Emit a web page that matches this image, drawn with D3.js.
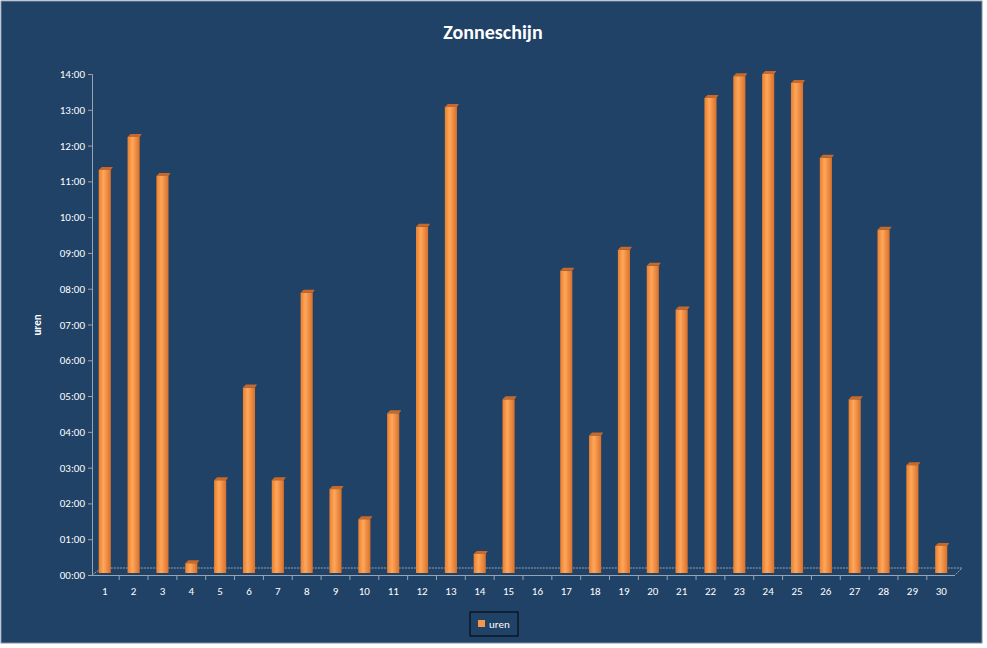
<!DOCTYPE html>
<html><head><meta charset="utf-8">
<script src="https://cdn.jsdelivr.net/npm/d3@7"></script>
<style>body{margin:0;background:#fff;font-family:Calibri,"Liberation Sans",sans-serif}</style>
</head><body><div id="chart"></div>
<script>
// data
const days = d3.range(1, 31).map(String);
const uren = [11.32, 12.24, 11.15, 0.33, 2.65, 5.24, 2.65, 7.89, 2.4, 1.56,
              4.52, 9.73, 13.08, 0.59, 4.91, 0, 8.5, 3.9, 9.09, 8.64,
              7.42, 13.33, 13.94, 14.0, 13.75, 11.66, 4.91, 9.65, 3.07, 0.81];
const yTicks = d3.range(0, 15);

const W = 987, H = 648;
const BG = "#1F4266";
const BAR = "#F79646";

let svg = d3.select("#chart").append("svg").attr("width", W).attr("height", H);

let defs = svg.append("defs");
let grad = defs.append("linearGradient").attr("id", "barGrad");
grad.append("stop").attr("offset", "0%").attr("stop-color", "#E9802F");
grad.append("stop").attr("offset", "40%").attr("stop-color", "#FFA75A");
grad.append("stop").attr("offset", "100%").attr("stop-color", "#D9702A");

svg.append("rect").attr("x", 1).attr("y", 1).attr("width", W - 6).attr("height", H - 6)
    .attr("fill", BG).attr("stroke", "#7f8fa6");

svg.append("text").attr("x", 493).attr("y", 39).attr("text-anchor", "middle")
    .attr("fill", "#fff").attr("font-size", 20).attr("font-weight", "bold").text("Zonneschijn");

let x = d3.scaleBand().domain(days).range([91.5, 954.5]).paddingInner(0.58).paddingOuter(0.25);
let y = d3.scaleLinear().domain([0, 14]).range([575, 74]);

// floor
svg.append("path")
    .attr("d", `M92,575 L102,568 L962,568 L955,575`)
    .attr("fill", "none").attr("stroke", "#9aa4b0").attr("stroke-dasharray", "2,1");

// axes
let yAxis = svg.append("g").attr("transform", "translate(92,0)")
    .call(d3.axisLeft(y).tickValues(yTicks).tickSize(4)
        .tickFormat(d => String(d).padStart(2, "0") + ":00"));
let xAxis = svg.append("g").attr("transform", "translate(0,575)")
    .call(d3.axisBottom(x).tickSize(0).tickPadding(12));
// category separators between bars
svg.append("g").selectAll("line").data(days.slice(1)).join("line")
    .attr("x1", d => x(d) + x.bandwidth() / 2 - x.step() / 2)
    .attr("x2", d => x(d) + x.bandwidth() / 2 - x.step() / 2)
    .attr("y1", 575).attr("y2", 580).attr("stroke", "#9aa4b0");
[yAxis, xAxis].forEach(a => {
    a.selectAll(".domain").attr("stroke", "#9aa4b0");
    a.selectAll("line").attr("stroke", "#9aa4b0");
    a.selectAll("text").attr("fill", "#fff").attr("font-size", 11)
        .attr("font-family", "Calibri,'Liberation Sans',sans-serif");
});

svg.append("text").attr("transform", "translate(41,325) rotate(-90)")
    .attr("text-anchor", "middle").attr("fill", "#fff").attr("font-size", 11)
    .attr("font-weight", "bold").text("uren");

// 3D-ish bars (keep day with value, skip zero)
let barData = uren.map((v, i) => ({day: days[i], v: v})).filter(d => d.v > 0);
let bars = svg.append("g").selectAll("g").data(barData).join("g");
bars.append("rect")
    .attr("x", d => x(d.day))
    .attr("y", d => y(d.v))
    .attr("width", x.bandwidth())
    .attr("height", d => 573 - y(d.v))
    .attr("fill", "url(#barGrad)");
bars.append("path")
    .attr("d", d => {
        let x0 = x(d.day), w = x.bandwidth(), t = y(d.v);
        return `M${x0},${t} L${x0 + 3},${t - 3} L${x0 + w + 2},${t - 3} L${x0 + w},${t} Z`;
    })
    .attr("fill", "#C8682A");

// legend
let lg = svg.append("g").attr("transform", "translate(470,612)");
lg.append("rect").attr("width", 48).attr("height", 24).attr("fill", "none").attr("stroke", "#000");
lg.append("rect").attr("x", 8).attr("y", 8).attr("width", 7).attr("height", 7).attr("fill", BAR);
lg.append("text").attr("x", 19).attr("y", 16).attr("fill", "#fff").attr("font-size", 11).text("uren");
</script></body></html>
